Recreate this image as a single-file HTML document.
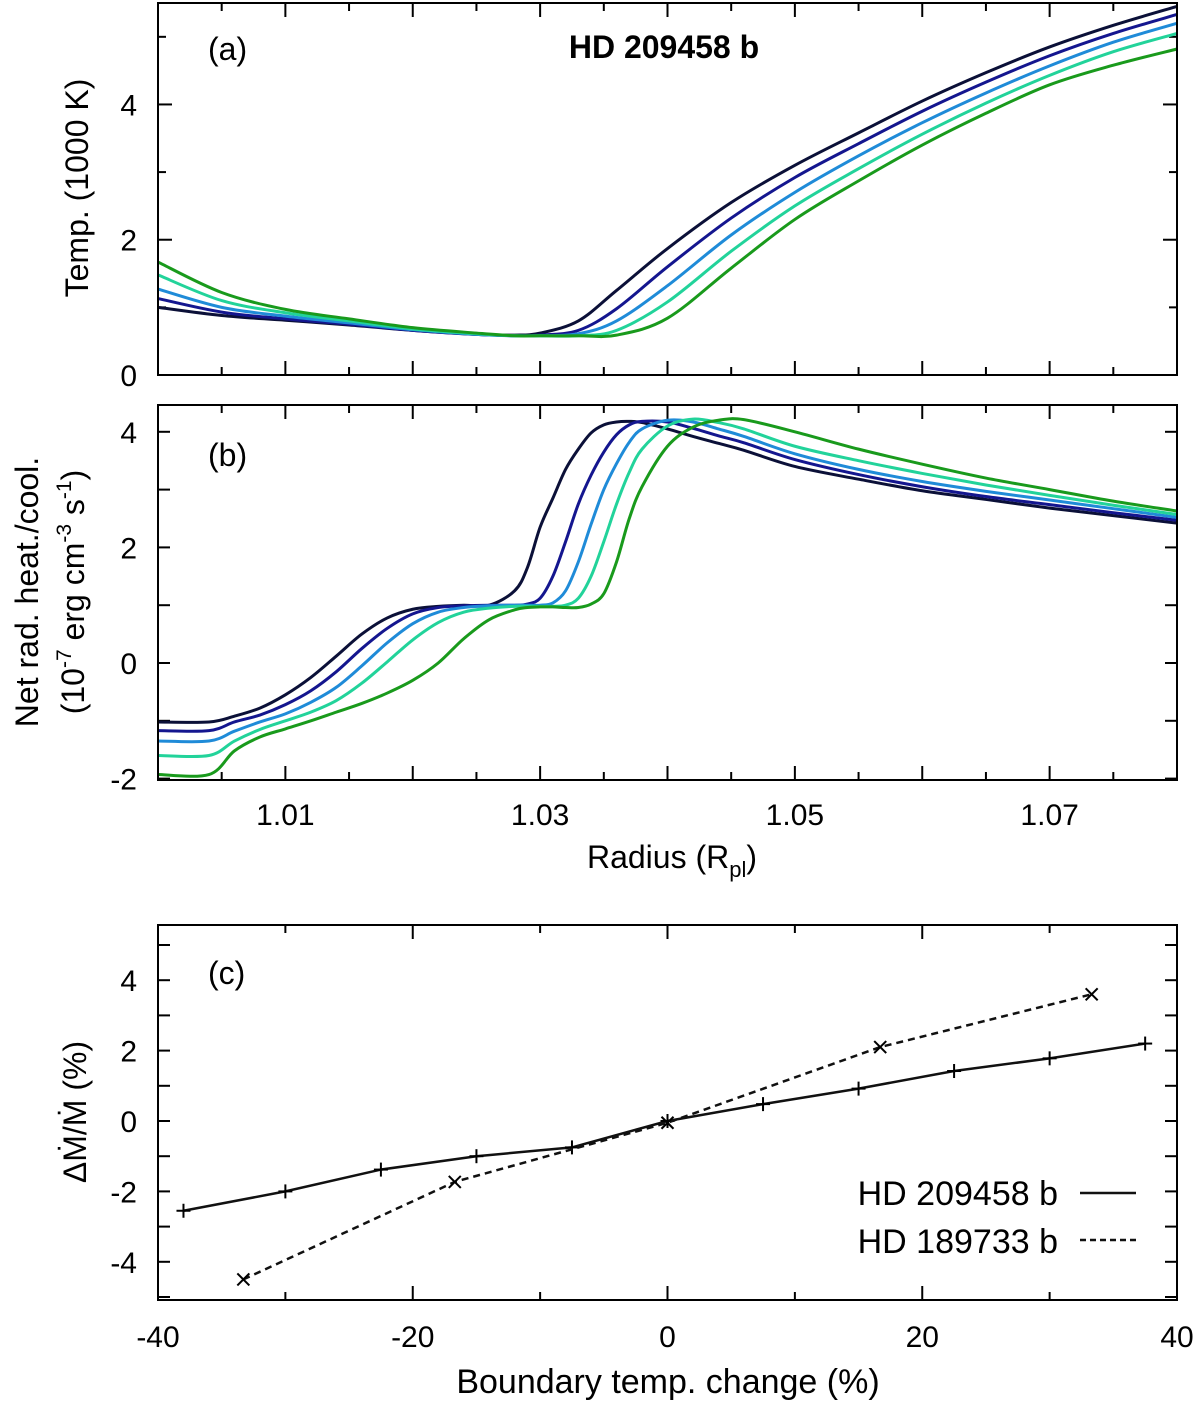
<!DOCTYPE html>
<html><head><meta charset="utf-8"><style>
html,body{margin:0;padding:0;background:#fff;}
svg{display:block;font-family:"Liberation Sans",Arial,sans-serif;}
</style></head><body>
<svg id="chart" width="1200" height="1404" viewBox="0 0 1200 1404" xmlns="http://www.w3.org/2000/svg"></svg>
<script>
// ---- data: panel (a) temperature (1000 K) vs radius ----
const radiusA = [1.000,1.005,1.010,1.015,1.020,1.025,1.028,1.030,1.033,1.036,1.040,1.045,1.050,1.055,1.060,1.065,1.070,1.075,1.080];
const tempS0 = [1.00,0.88,0.81,0.74,0.66,0.60,0.59,0.62,0.80,1.25,1.87,2.55,3.10,3.58,4.05,4.47,4.85,5.17,5.45];
const tempS1 = [1.13,0.93,0.83,0.75,0.66,0.60,0.58,0.59,0.66,0.98,1.60,2.32,2.92,3.42,3.90,4.33,4.72,5.05,5.33];
const tempS2 = [1.27,1.00,0.87,0.77,0.67,0.60,0.58,0.58,0.61,0.80,1.32,2.07,2.70,3.24,3.73,4.17,4.57,4.92,5.20];
const tempS3 = [1.48,1.10,0.92,0.80,0.68,0.61,0.58,0.58,0.58,0.66,1.08,1.83,2.50,3.05,3.56,4.02,4.43,4.78,5.05];
const tempS4 = [1.67,1.22,0.97,0.83,0.70,0.62,0.58,0.58,0.58,0.59,0.84,1.58,2.30,2.87,3.40,3.87,4.29,4.58,4.82];
// ---- data: panel (b) net radiative heating/cooling ----
const radiusB = [1.000,1.004,1.006,1.008,1.010,1.012,1.014,1.016,1.018,1.020,1.022,1.024,1.026,1.028,1.029,1.030,1.031,1.032,1.033,1.034,1.035,1.036,1.037,1.038,1.040,1.042,1.044,1.046,1.050,1.055,1.060,1.065,1.070,1.075,1.080];
const heatS0 = [-1.02,-1.02,-0.92,-0.78,-0.55,-0.25,0.12,0.50,0.78,0.93,0.98,1.00,1.00,1.25,1.65,2.35,2.85,3.35,3.70,3.98,4.12,4.17,4.18,4.16,4.05,3.92,3.80,3.68,3.40,3.18,2.98,2.83,2.68,2.55,2.42];
const heatS1 = [-1.17,-1.17,-1.02,-0.90,-0.72,-0.48,-0.15,0.25,0.60,0.85,0.96,0.99,1.00,1.00,1.02,1.12,1.50,2.10,2.75,3.25,3.65,3.95,4.12,4.18,4.17,4.06,3.93,3.81,3.52,3.26,3.05,2.88,2.74,2.60,2.47];
const heatS2 = [-1.35,-1.35,-1.18,-1.02,-0.88,-0.68,-0.42,-0.05,0.35,0.68,0.88,0.96,0.99,1.00,1.00,1.00,1.04,1.25,1.75,2.40,3.00,3.45,3.82,4.05,4.20,4.17,4.05,3.92,3.62,3.35,3.14,2.97,2.82,2.67,2.52];
const heatS3 = [-1.60,-1.60,-1.35,-1.15,-1.00,-0.85,-0.65,-0.35,0.02,0.40,0.70,0.88,0.95,0.98,0.98,0.98,0.98,1.00,1.12,1.50,2.10,2.75,3.30,3.70,4.10,4.22,4.16,4.05,3.75,3.50,3.28,3.08,2.90,2.73,2.57];
const heatS4 = [-1.93,-1.93,-1.52,-1.28,-1.14,-1.00,-0.85,-0.70,-0.52,-0.30,0.00,0.42,0.75,0.92,0.96,0.97,0.97,0.96,0.96,1.02,1.20,1.75,2.50,3.05,3.75,4.08,4.20,4.21,4.00,3.70,3.44,3.20,3.00,2.80,2.63];
// ---- data: panel (c) ----
const dTempA = [-38,-30,-22.5,-15,-7.5,0,7.5,15,22.5,30,37.5];
const dMdotA = [-2.55,-2.0,-1.38,-1.0,-0.75,0,0.48,0.92,1.42,1.78,2.2];
const dTempB = [-33.3,-16.7,0,16.7,33.3];
const dMdotB = [-4.5,-1.73,-0.05,2.1,3.6];
const seriesNames = ["HD 209458 b","HD 189733 b"];
const ticksABx = ["1.01","1.03","1.05","1.07"];
const ticksAy = ["0","2","4"];
const ticksBy = ["-2","0","2","4"];
const ticksCx = ["-40","-20","0","20","40"];
const ticksCy = ["-4","-2","0","2","4"];

const colors = ["#0b1038","#14168f","#1f8bd8","#22d39a","#199a1c"];
const svg = document.getElementById('chart');
const NS = "http://www.w3.org/2000/svg";
function mk(tag, attrs, parent){ const e=document.createElementNS(NS,tag); for(const k in attrs) e.setAttribute(k,attrs[k]); (parent||svg).appendChild(e); return e; }
function txt(s, attrs, parent){ const e=mk('text',attrs,parent); e.textContent=s; return e; }
function smoothPath(pts){
  let d='M'+pts[0][0]+','+pts[0][1];
  for(let i=0;i<pts.length-1;i++){
    const p0=pts[Math.max(0,i-1)], p1=pts[i], p2=pts[i+1], p3=pts[Math.min(pts.length-1,i+2)];
    const c1x=p1[0]+(p2[0]-p0[0])/6, c1y=p1[1]+(p2[1]-p0[1])/6;
    const c2x=p2[0]-(p3[0]-p1[0])/6, c2y=p2[1]-(p3[1]-p1[1])/6;
    d+=' C'+c1x+','+c1y+' '+c2x+','+c2y+' '+p2[0]+','+p2[1];
  }
  return d;
}

const L=158, R=1177;
const TF=30, TT=32;
const xR = r => L + (r-1.0)/0.08*(R-L);
const yA = v => 375 - (v/5.5)*(375-3);
const yB = v => 663 - v*57.8;
const xC = v => L + (v+40)/80*(R-L);
const yC = v => 1121 - v*35.2;

function frame(top,bot,name){
  const r=mk('rect',{x:L,y:top,width:R-L,height:bot-top,fill:'none',stroke:'#000','stroke-width':2});
  
  
}
function tick(x1,y1,x2,y2,g){ mk('line',{x1,y1,x2,y2,stroke:'#000','stroke-width':2},g); }

// ===== Panel A =====
const gA = mk('g',{});  
frame(3,375,'panel-a-frame');
for(let i=0;i<=16;i++){ const r=1.0+i*0.005; const x=xR(r); const len=(i%2===0)?14:8;
  tick(x,375,x,375-len,gA); tick(x,3,x,3+len,gA); }
for(let v=1; v<=5; v++){ const y=yA(v); const len=(v%2===0)?14:8; tick(L,y,L+len,y,gA); tick(R,y,R-len,y,gA); }
ticksAy.forEach(t=>{ const y=yA(+t);
  const e=txt(t,{x:L-21,y:y+11,'font-size':TF,'text-anchor':'end'},gA);   });
const tempSeries=[tempS0,tempS1,tempS2,tempS3,tempS4];
tempSeries.forEach((s,k)=>{ const p=mk('path',{d:smoothPath(s.map((v,i)=>[xR(radiusA[i]),yA(v)])),fill:'none',stroke:colors[k],'stroke-width':3,'stroke-linejoin':'round'},gA);
    });
let e;
e=txt('(a)',{x:208,y:60,'font-size':TT},gA);  
e=txt('HD 209458 b',{x:664,y:58,'font-size':TT,'font-weight':'bold','text-anchor':'middle'},gA);  
e=txt('Temp. (1000 K)',{x:0,y:0,'font-size':TT,'text-anchor':'middle',transform:'translate(88,188) rotate(-90)'},gA);  

// ===== Panel B =====
const gB = mk('g',{});  
frame(405,780,'panel-b-frame');
for(let i=0;i<=16;i++){ const r=1.0+i*0.005; const x=xR(r); const len=(i%2===0)?14:8;
  tick(x,780,x,780-len,gB); tick(x,405,x,405+len,gB); }
for(let v=-2; v<=4; v++){ const y=yB(v); tick(L,y,L+12,y,gB); tick(R,y,R-12,y,gB); }
ticksBy.forEach(t=>{ const y=yB(+t);
  const e=txt(t,{x:L-21,y:y+11,'font-size':TF,'text-anchor':'end'},gB);   });
ticksABx.forEach(t=>{ const e=txt(t,{x:xR(+t),y:825,'font-size':TF,'text-anchor':'middle'},gB);   });
const heatSeries=[heatS0,heatS1,heatS2,heatS3,heatS4];
heatSeries.forEach((s,k)=>{ const p=mk('path',{d:smoothPath(s.map((v,i)=>[xR(radiusB[i]),yB(v)])),fill:'none',stroke:colors[k],'stroke-width':3,'stroke-linejoin':'round'},gB);
    });
e=txt('(b)',{x:208,y:466,'font-size':TT},gB);  
e=mk('text',{x:0,y:0,'font-size':TT,'text-anchor':'middle',transform:'translate(38,592) rotate(-90)'},gB);
e.textContent='Net rad. heat./cool.';  
e=mk('text',{x:0,y:0,'font-size':TT,'text-anchor':'middle',transform:'translate(84,592) rotate(-90)'},gB);
 
e.innerHTML='(10<tspan dy="-13" font-size="21">-7</tspan><tspan dy="13"> erg cm</tspan><tspan dy="-13" font-size="21">-3</tspan><tspan dy="13"> s</tspan><tspan dy="-13" font-size="21">-1</tspan><tspan dy="13">)</tspan>';
e=mk('text',{x:672,y:868,'font-size':TT,'text-anchor':'middle'},gB);
 
e.innerHTML='Radius (R<tspan dy="9" font-size="22">pl</tspan><tspan dy="-9">)</tspan>';

// ===== Panel C =====
const gC = mk('g',{});  
frame(925,1300,'panel-c-frame');
for(let v=-40; v<=40; v+=10){ const x=xC(v); const len=(v%20===0)?14:8; tick(x,1300,x,1300-len,gC); tick(x,925,x,925+len,gC); }
for(let v=-5; v<=5; v++){ const y=yC(v); tick(L,y,L+12,y,gC); tick(R,y,R-12,y,gC); }
ticksCx.forEach(t=>{ const e=txt(t,{x:xC(+t),y:1347,'font-size':TF,'text-anchor':'middle'},gC);   });
ticksCy.forEach(t=>{ const e=txt(t,{x:L-21,y:yC(+t)+11,'font-size':TF,'text-anchor':'end'},gC);   });
let p=mk('polyline',{points:dTempA.map((v,i)=>xC(v)+','+yC(dMdotA[i])).join(' '),fill:'none',stroke:'#111','stroke-width':2.5},gC);
 
dTempA.forEach((v,i)=>{ const x=xC(v), y=yC(dMdotA[i]); const g=mk('g',{},gC);
   
  tick(x-7,y,x+7,y,g); tick(x,y-7,x,y+7,g); });
p=mk('polyline',{points:dTempB.map((v,i)=>xC(v)+','+yC(dMdotB[i])).join(' '),fill:'none',stroke:'#111','stroke-width':2.5,'stroke-dasharray':'7,5'},gC);
 
dTempB.forEach((v,i)=>{ const x=xC(v), y=yC(dMdotB[i]); const g=mk('g',{},gC);
   
  tick(x-6,y-6,x+6,y+6,g); tick(x-6,y+6,x+6,y-6,g); });
e=txt('(c)',{x:208,y:984,'font-size':TT},gC);  
// legend
const lg=mk('g',{},gC);  
e=txt(seriesNames[0],{x:1058,y:1205,'font-size':34,'text-anchor':'end'},lg);  
e=mk('line',{x1:1080,y1:1193,x2:1136,y2:1193,stroke:'#111','stroke-width':2.5},lg);  
e=txt(seriesNames[1],{x:1058,y:1253,'font-size':34,'text-anchor':'end'},lg);  
e=mk('line',{x1:1080,y1:1240,x2:1136,y2:1240,stroke:'#111','stroke-width':2.5,'stroke-dasharray':'6,4'},lg);  
e=txt('Boundary temp. change (%)',{x:668,y:1393,'font-size':TT+2,'text-anchor':'middle'},gC);  
e=mk('text',{x:0,y:0,'font-size':TT,'text-anchor':'middle',transform:'translate(86,1112) rotate(-90)'},gC);
 
e.textContent='ΔṀ/Ṁ (%)';
</script>
</body></html>
